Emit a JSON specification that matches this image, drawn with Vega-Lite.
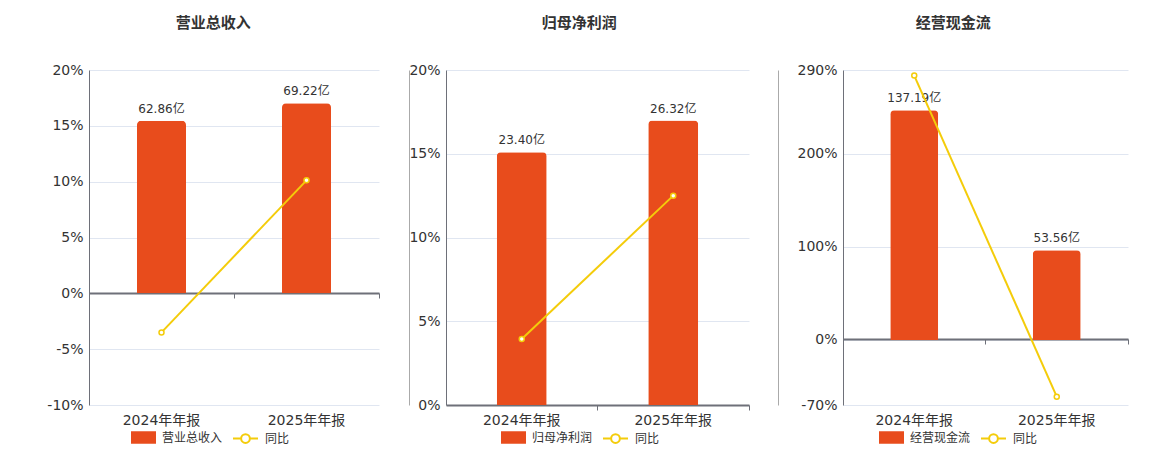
{
  "$schema": "https://vega.github.io/schema/vega-lite/v6.json",
  "padding": {"left": 46, "top": 16, "right": 10, "bottom": 5},
  "config": {
    "view": {"stroke": null},
    "font": "DejaVu Sans, Noto Sans CJK SC",
    "concat": {"spacing": 28},
    "title": {"fontSize": 15, "fontWeight": "bold", "color": "#333333", "anchor": "middle", "frame": "bounds", "offset": 32},
    "legend": {"orient": "none", "direction": "horizontal", "labelFontSize": 12, "labelColor": "#333333", "title": null, "symbolSize": 625, "padding": 0, "labelOffset": 6, "legendY": 355}
  },
  "resolve": {"scale": {"fill": "independent", "stroke": "independent"}, "legend": {"fill": "independent", "stroke": "independent"}},
  "hconcat": [
    {
      "title": "营业总收入",
      "width": 290,
      "height": 335,
      "data": {"values": [
        {"period": "2024年年报", "value": 62.86, "label": "62.86亿", "yoy": -3.5},
        {"period": "2025年年报", "value": 69.22, "label": "69.22亿", "yoy": 10.12}
      ]},
      "layer": [
        {
          "layer": [
            {
              "mark": {"type": "bar", "size": 49, "cornerRadiusTopLeft": 4, "cornerRadiusTopRight": 4},
              "encoding": {
                "x": {"field": "period", "type": "nominal", "sort": null, "scale": {"paddingInner": 0, "paddingOuter": 0}, "axis": {"orient": "bottom", "offset": -112, "labels": false, "title": null, "grid": false, "domainColor": "#6E7079", "domainWidth": 2, "tickColor": "#6E7079", "tickSize": 5, "bandPosition": 1}},
                "y": {"field": "value", "type": "quantitative", "scale": {"domain": [-40.65, 81.3], "nice": false, "zero": false}, "axis": null},
                "fill": {"datum": "营业总收入", "scale": {"range": ["#E84C1C"]}, "legend": {"legendX": 42, "symbolType": "M-1,-0.5H1V0.5H-1Z", "symbolStrokeWidth": 0}}
              }
            },
            {
              "mark": {"type": "text", "baseline": "bottom", "dy": -5, "fontSize": 12, "color": "#333333"},
              "encoding": {
                "x": {"field": "period", "type": "nominal", "sort": null},
                "y": {"field": "value", "type": "quantitative"},
                "text": {"field": "label"}
              }
            }
          ]
        },
        {
          "mark": {"type": "line", "strokeWidth": 2, "point": {"filled": true, "fill": "white", "size": 25, "strokeWidth": 1.5}},
          "encoding": {
            "x": {"field": "period", "type": "nominal", "sort": null, "axis": {"orient": "bottom", "title": null, "domain": false, "ticks": false, "labelAngle": 0, "labelFontSize": 14, "labelColor": "#333333", "labelPadding": 8}},
            "y": {"field": "yoy", "type": "quantitative", "scale": {"domain": [-10, 20], "nice": false}, "axis": {"orient": "left", "grid": true, "values": [-10, -5, 0, 5, 10, 15, 20], "labelExpr": "datum.value + '%'", "title": null, "ticks": false, "domainColor": "#6E7079", "labelFontSize": 14, "labelColor": "#333333", "labelPadding": 6, "gridColor": "#E0E6F1"}},
            "stroke": {"datum": "同比", "scale": {"range": ["#F4CC0A"]}, "legend": {"legendX": 143, "symbolType": "M-1,0H-0.35M0.35,0H1M-0.35,0A0.35,0.35 0 1 1 0.35,0A0.35,0.35 0 1 1 -0.35,0", "symbolStrokeWidth": 2, "symbolFillColor": "white"}}
          }
        }
      ],
      "resolve": {"scale": {"y": "independent"}, "axis": {"x": "independent", "y": "independent"}}
    },
    {
      "title": "归母净利润",
      "width": 303,
      "height": 335,
      "data": {"values": [
        {"period": "2024年年报", "value": 23.40, "label": "23.40亿", "yoy": 3.94},
        {"period": "2025年年报", "value": 26.32, "label": "26.32亿", "yoy": 12.5}
      ]},
      "layer": [
        {
          "layer": [
            {
              "mark": {"type": "bar", "size": 50, "cornerRadiusTopLeft": 4, "cornerRadiusTopRight": 4},
              "encoding": {
                "x": {"field": "period", "type": "nominal", "sort": null, "scale": {"paddingInner": 0, "paddingOuter": 0}, "axis": {"orient": "bottom", "offset": 0, "labels": false, "title": null, "grid": false, "domainColor": "#6E7079", "domainWidth": 2, "tickColor": "#6E7079", "tickSize": 5, "bandPosition": 1}},
                "y": {"field": "value", "type": "quantitative", "scale": {"domain": [0, 31.0], "nice": false, "zero": false}, "axis": {"orient": "left", "offset": 37, "labels": false, "ticks": false, "grid": false, "title": null, "domainColor": "#AAAAAA", "domainWidth": 1}},
                "fill": {"datum": "归母净利润", "scale": {"range": ["#E84C1C"]}, "legend": {"legendX": 55, "symbolType": "M-1,-0.5H1V0.5H-1Z", "symbolStrokeWidth": 0}}
              }
            },
            {
              "mark": {"type": "text", "baseline": "bottom", "dy": -5, "fontSize": 12, "color": "#333333"},
              "encoding": {
                "x": {"field": "period", "type": "nominal", "sort": null},
                "y": {"field": "value", "type": "quantitative"},
                "text": {"field": "label"}
              }
            }
          ]
        },
        {
          "mark": {"type": "line", "strokeWidth": 2, "point": {"filled": true, "fill": "white", "size": 25, "strokeWidth": 1.5}},
          "encoding": {
            "x": {"field": "period", "type": "nominal", "sort": null, "axis": {"orient": "bottom", "title": null, "domain": false, "ticks": false, "labelAngle": 0, "labelFontSize": 14, "labelColor": "#333333", "labelPadding": 8}},
            "y": {"field": "yoy", "type": "quantitative", "scale": {"domain": [0, 20], "nice": false}, "axis": {"orient": "left", "grid": true, "values": [0, 5, 10, 15, 20], "labelExpr": "datum.value + '%'", "title": null, "ticks": false, "domainColor": "#6E7079", "labelFontSize": 14, "labelColor": "#333333", "labelPadding": 6, "gridColor": "#E0E6F1"}},
            "stroke": {"datum": "同比", "scale": {"range": ["#F4CC0A"]}, "legend": {"legendX": 156, "symbolType": "M-1,0H-0.35M0.35,0H1M-0.35,0A0.35,0.35 0 1 1 0.35,0A0.35,0.35 0 1 1 -0.35,0", "symbolStrokeWidth": 2, "symbolFillColor": "white"}}
          }
        }
      ],
      "resolve": {"scale": {"y": "independent"}, "axis": {"x": "independent", "y": "independent"}}
    },
    {
      "title": "经营现金流",
      "width": 285,
      "height": 335,
      "data": {"values": [
        {"period": "2024年年报", "value": 137.19, "label": "137.19亿", "yoy": 284},
        {"period": "2025年年报", "value": 53.56, "label": "53.56亿", "yoy": -61}
      ]},
      "layer": [
        {
          "layer": [
            {
              "mark": {"type": "bar", "size": 48, "cornerRadiusTopLeft": 4, "cornerRadiusTopRight": 4},
              "encoding": {
                "x": {"field": "period", "type": "nominal", "sort": null, "scale": {"paddingInner": 0, "paddingOuter": 0}, "axis": {"orient": "bottom", "offset": -66, "labels": false, "title": null, "grid": false, "domainColor": "#6E7079", "domainWidth": 2, "tickColor": "#6E7079", "tickSize": 5, "bandPosition": 1}},
                "y": {"field": "value", "type": "quantitative", "scale": {"domain": [-38.9, 161.2], "nice": false, "zero": false}, "axis": {"orient": "left", "offset": 65, "labels": false, "ticks": false, "grid": false, "title": null, "domainColor": "#AAAAAA", "domainWidth": 1}},
                "fill": {"datum": "经营现金流", "scale": {"range": ["#E84C1C"]}, "legend": {"legendX": 36, "symbolType": "M-1,-0.5H1V0.5H-1Z", "symbolStrokeWidth": 0}}
              }
            },
            {
              "mark": {"type": "text", "baseline": "bottom", "dy": -5, "fontSize": 12, "color": "#333333"},
              "encoding": {
                "x": {"field": "period", "type": "nominal", "sort": null},
                "y": {"field": "value", "type": "quantitative"},
                "text": {"field": "label"}
              }
            }
          ]
        },
        {
          "mark": {"type": "line", "strokeWidth": 2, "point": {"filled": true, "fill": "white", "size": 25, "strokeWidth": 1.5}},
          "encoding": {
            "x": {"field": "period", "type": "nominal", "sort": null, "axis": {"orient": "bottom", "title": null, "domain": false, "ticks": false, "labelAngle": 0, "labelFontSize": 14, "labelColor": "#333333", "labelPadding": 8}},
            "y": {"field": "yoy", "type": "quantitative", "scale": {"domain": [-70, 290], "nice": false}, "axis": {"orient": "left", "grid": true, "values": [-70, 0, 100, 200, 290], "labelExpr": "datum.value + '%'", "title": null, "ticks": false, "domainColor": "#6E7079", "labelFontSize": 14, "labelColor": "#333333", "labelPadding": 6, "gridColor": "#E0E6F1"}},
            "stroke": {"datum": "同比", "scale": {"range": ["#F4CC0A"]}, "legend": {"legendX": 137, "symbolType": "M-1,0H-0.35M0.35,0H1M-0.35,0A0.35,0.35 0 1 1 0.35,0A0.35,0.35 0 1 1 -0.35,0", "symbolStrokeWidth": 2, "symbolFillColor": "white"}}
          }
        }
      ],
      "resolve": {"scale": {"y": "independent"}, "axis": {"x": "independent", "y": "independent"}}
    }
  ]
}
